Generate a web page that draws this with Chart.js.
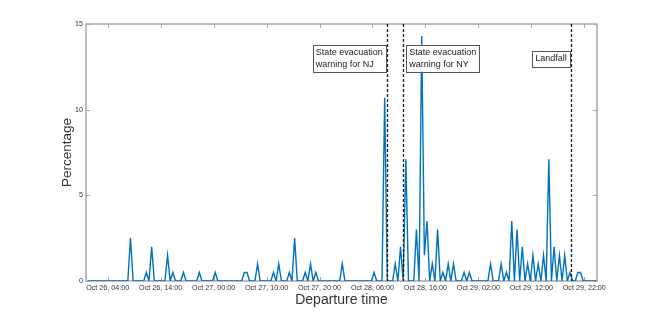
<!DOCTYPE html>
<html>
<head>
<meta charset="utf-8">
<script src="https://cdn.jsdelivr.net/npm/chart.js@4"></script>
<style>
  body { margin: 0; background: #fff; }
  #wrap { width: 660px; height: 316px; }
</style>
</head>
<body>
<div id="wrap"><canvas id="departures" width="660" height="316"></canvas></div>
<script>
/* ---------- data (hours counted from Oct 26, 00:00) ---------- */

const startHour = 0.3;   // first half-hour bin
const stepHours = 0.5;

// share of departures per half-hour bin, 12 hours per row
const percentValues = [
  0, 0, 0, 0, 0, 0, 0, 0, 0, 0, 0, 0, 0, 0, 0, 0, 2.5, 0, 0, 0, 0, 0, 0.5, 0,
  2, 0, 0, 0, 0, 0, 1.5, 0, 0.5, 0, 0, 0, 0.5, 0, 0, 0, 0, 0, 0.5, 0, 0, 0, 0, 0,
  0.5, 0, 0, 0, 0, 0, 0, 0, 0, 0, 0, 0.5, 0.5, 0, 0, 0, 1, 0, 0, 0, 0, 0, 0.5, 0,
  1, 0, 0, 0, 0.5, 0, 2.5, 0, 0, 0, 0.5, 0, 1, 0, 0.5, 0, 0, 0, 0, 0, 0, 0, 0, 0,
  1, 0, 0, 0, 0, 0, 0, 0, 0, 0, 0, 0, 0.5, 0, 0, 0, 10.7, 0, 0, 0, 1, 0, 2, 0,
  7.1, 0, 0, 0, 3, 0, 14.3, 1.5, 3.5, 0, 1, 0, 3, 0, 0.5, 0, 1, 0, 1, 0, 0, 0, 0.5, 0,
  0.5, 0, 0, 0, 0, 0, 0, 0, 1, 0, 0, 0, 1, 0, 0.5, 0, 3.5, 0, 3, 0, 2, 0, 1, 0,
  1.5, 0, 1, 0, 1.5, 0, 7.1, 0, 2, 0, 1.5, 0, 1.5, 0, 0.5, 0, 0, 0.5, 0.5, 0, 0, 0, 0, 0,
  0
];

const xTickHours = [4, 14, 24, 34, 44, 54, 64, 74, 84, 94];
const xTickLabels = [
  "Oct 26, 04:00", "Oct 26, 14:00", "Oct 27, 00:00", "Oct 27, 10:00", "Oct 27, 20:00",
  "Oct 28, 06:00", "Oct 28, 16:00", "Oct 29, 02:00", "Oct 29, 12:00", "Oct 29, 22:00"
];
const yTickValues = [0, 5, 10, 15];

const eventHours = [56.8, 59.8, 91.55];
const eventTexts = [
  ["State evacuation", "warning for NJ"],
  ["State evacuation", "warning for NY"],
  ["Landfall"]
];
const eventSides = ["left", "right", "left"];
const eventTextLevel = 13;

/* ---------- helpers ---------- */

const FONT = "'Liberation Sans', Arial, Helvetica, sans-serif";
const points = percentValues.map((v, i) => ({ x: startHour + i * stepHours, y: v }));

// MATLAB-like box with inward ticks on all four sides
const frameBox = {
  id: "frameBox",
  beforeDatasetsDraw(chart) {
    const { ctx, chartArea: a, scales } = chart;
    const tl = 4;
    ctx.save();
    ctx.strokeStyle = "#a8a8a8";
    ctx.lineWidth = 1.5;
    ctx.strokeRect(a.left, a.top, a.right - a.left, a.bottom - a.top);
    ctx.beginPath();
    xTickHours.forEach(h => {
      const x = Math.round(scales.x.getPixelForValue(h)) + 0.5;
      ctx.moveTo(x, a.bottom); ctx.lineTo(x, a.bottom - tl);
      ctx.moveTo(x, a.top); ctx.lineTo(x, a.top + tl);
    });
    yTickValues.forEach(v => {
      const y = Math.round(scales.y.getPixelForValue(v)) + 0.5;
      ctx.moveTo(a.left, y); ctx.lineTo(a.left + tl, y);
      ctx.moveTo(a.right, y); ctx.lineTo(a.right - tl, y);
    });
    ctx.lineWidth = 1;
    ctx.stroke();
    ctx.restore();
  }
};

// dotted event lines with boxed labels
const eventMarks = {
  id: "eventMarks",
  afterDatasetsDraw(chart) {
    const { ctx, chartArea: a, scales } = chart;
    ctx.save();
    ctx.strokeStyle = "#1a1a1a";
    ctx.lineWidth = 1.3;
    ctx.setLineDash([3, 2]);
    eventHours.forEach(h => {
      const x = Math.round(scales.x.getPixelForValue(h)) + 0.5;
      ctx.beginPath();
      ctx.moveTo(x, a.top);
      ctx.lineTo(x, a.bottom);
      ctx.stroke();
    });
    ctx.setLineDash([]);

    ctx.font = "9px " + FONT;
    ctx.textBaseline = "middle";
    const lineH = 11.5, padX = 3, padY = 2;
    eventHours.forEach((h, i) => {
      const lines = eventTexts[i];
      const w = Math.max(...lines.map(t => ctx.measureText(t).width)) + padX * 2;
      const ht = lines.length * lineH + padY * 2;
      const lx = scales.x.getPixelForValue(h);
      const cy = scales.y.getPixelForValue(eventTextLevel);
      const bx = eventSides[i] === "left" ? lx - 1.5 - w : lx + 3;
      const by = cy - ht / 2;
      ctx.fillStyle = "#fff";
      ctx.fillRect(bx, by, w, ht);
      ctx.strokeStyle = "#555";
      ctx.lineWidth = 1;
      ctx.strokeRect(Math.round(bx) + 0.5, Math.round(by) + 0.5, Math.round(w), Math.round(ht));
      ctx.fillStyle = "#222";
      lines.forEach((t, j) => {
        ctx.fillText(t, bx + padX, by + padY + lineH * (j + 0.5));
      });
    });
    ctx.restore();
  }
};

/* ---------- chart ---------- */

const departuresChart = new Chart(document.getElementById("departures"), {
  type: "line",
  data: {
    datasets: [{
      label: "Percentage",
      data: points,
      borderColor: "#0072BD",
      borderWidth: 1.4,
      pointRadius: 0,
      tension: 0,
      fill: false
    }]
  },
  options: {
    responsive: false,
    animation: false,
    layout: { padding: { left: 0, top: 24, right: 63, bottom: 0 } },
    plugins: {
      legend: { display: false },
      tooltip: { enabled: false }
    },
    scales: {
      x: {
        type: "linear",
        min: -0.1,
        max: 96.4,
        afterFit(scale) { scale.height = 35; },
        afterBuildTicks(scale) {
          scale.ticks = xTickHours.map(v => ({ value: v }));
        },
        ticks: {
          autoSkip: false,
          maxRotation: 0,
          padding: 3,
          color: "#333",
          font: { family: FONT, size: 7.2 },
          callback: (v) => xTickLabels[xTickHours.indexOf(v)]
        },
        grid: { display: false, drawTicks: false },
        border: { display: false },
        title: {
          display: true,
          text: "Departure time",
          color: "#333",
          font: { family: FONT, size: 14 },
          padding: { top: 0, bottom: 7 }
        }
      },
      y: {
        min: 0,
        max: 15,
        afterFit(scale) { scale.width = 86; },
        afterBuildTicks(scale) {
          scale.ticks = yTickValues.map(v => ({ value: v }));
        },
        ticks: {
          padding: 3,
          color: "#333",
          font: { family: FONT, size: 7.2 }
        },
        grid: { display: false, drawTicks: false },
        border: { display: false },
        title: {
          display: true,
          text: "Percentage",
          color: "#333",
          font: { family: FONT, size: 13.5 },
          padding: { top: 59, bottom: 0 }
        }
      }
    }
  },
  plugins: [frameBox, eventMarks]
});
</script>
</body>
</html>
